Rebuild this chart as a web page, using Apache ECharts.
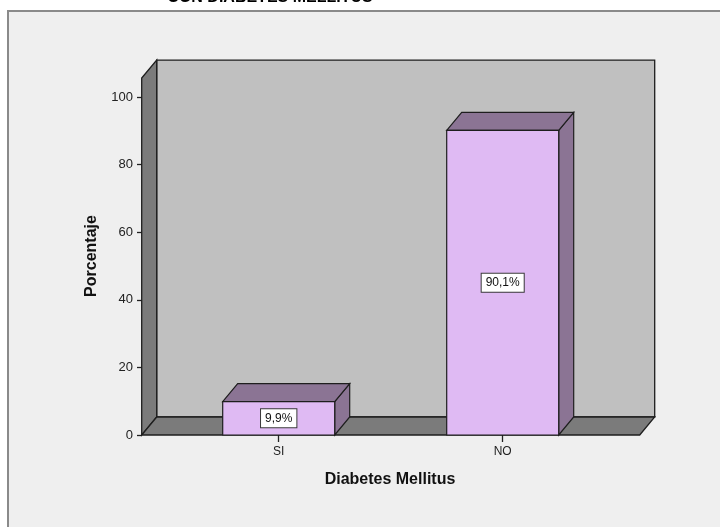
<!DOCTYPE html>
<html>
<head>
<meta charset="utf-8">
<script src="https://cdn.jsdelivr.net/npm/echarts@6/dist/echarts.min.js"></script>
<style>
  html, body { margin: 0; padding: 0; background: #ffffff; }
  #chart { width: 720px; height: 527px; }
</style>
</head>
<body>
<div id="chart"></div>
<script>
// Percentage of patients with / without diabetes mellitus
const categories = ['SI', 'NO'];
const percentages = [9.9, 90.1];
const valueLabels = ['9,9%', '90,1%'];
const yMin = 0;
const yMax = 100;
const yInterval = 20;
const wallTopValue = 105.6;

const FONT = "'Liberation Sans', Arial, sans-serif";
const DEPTH_X = 15;
const DEPTH_Y = -18;
const SIDE_PAD = 25;
const EDGE = '#1e1e1e';

// Back wall, left side wall and floor of the 3D box
function renderFrame(params, api) {
  const cs = params.coordSys;
  const base = api.coord([0, 0])[1];
  const top = api.coord([0, wallTopValue])[1];
  const left = cs.x - SIDE_PAD;
  const right = cs.x + cs.width + SIDE_PAD;
  const bl = left + DEPTH_X, br = right + DEPTH_X;
  const bBase = base + DEPTH_Y, bTop = top + DEPTH_Y;
  const line = { stroke: EDGE, lineWidth: 1.3 };
  return {
    type: 'group',
    children: [
      { type: 'polygon', shape: { points: [[bl, bTop], [br, bTop], [br, bBase], [bl, bBase]] },
        style: Object.assign({ fill: '#c0c0c0' }, line) },
      { type: 'polygon', shape: { points: [[left, base], [left, top], [bl, bTop], [bl, bBase]] },
        style: Object.assign({ fill: '#7b7b7b' }, line) },
      { type: 'polygon', shape: { points: [[left, base], [right, base], [br, bBase], [bl, bBase]] },
        style: Object.assign({ fill: '#7b7b7b' }, line) }
    ]
  };
}

// One 3D bar: front face, top face, right side face and its value box
function renderBar(params, api) {
  const idx = api.value(0);
  const val = api.value(1);
  const topPt = api.coord([idx, val]);
  const basePt = api.coord([idx, 0]);
  const band = api.size([1, 0])[0];
  const w = band * 0.5;
  const x0 = topPt[0] - w / 2, x1 = topPt[0] + w / 2;
  const yT = topPt[1], yB = basePt[1];
  const line = { stroke: EDGE, lineWidth: 1.2 };
  return {
    type: 'group',
    children: [
      { type: 'polygon', shape: { points: [[x1, yT], [x1 + DEPTH_X, yT + DEPTH_Y], [x1 + DEPTH_X, yB + DEPTH_Y], [x1, yB]] },
        style: Object.assign({ fill: '#8b7494' }, line) },
      { type: 'polygon', shape: { points: [[x0, yT], [x1, yT], [x1 + DEPTH_X, yT + DEPTH_Y], [x0 + DEPTH_X, yT + DEPTH_Y]] },
        style: Object.assign({ fill: '#8b7494' }, line) },
      { type: 'rect', shape: { x: x0, y: yT, width: w, height: yB - yT },
        style: Object.assign({ fill: '#dfbaf3' }, line) },
      { type: 'text',
        style: {
          text: valueLabels[params.dataIndex],
          x: topPt[0], y: (yT + yB) / 2,
          align: 'center', verticalAlign: 'middle',
          fill: '#111', font: '12px ' + FONT,
          backgroundColor: '#ffffff', borderColor: '#3a3a3a', borderWidth: 1,
          padding: [3, 4, 3, 4]
        } }
    ]
  };
}

const chart = echarts.init(document.getElementById('chart'), null, { renderer: 'canvas' });

chart.setOption({
  backgroundColor: '#ffffff',
  animation: false,
  graphic: [
    { type: 'rect', z: -10, silent: true,
      shape: { x: 8, y: 11, width: 740, height: 540 },
      style: { fill: '#efefef', stroke: '#8a8a8a', lineWidth: 2 } },
    { type: 'text', z: 10,
      style: { text: 'CON DIABETES MELLITUS', x: 270, y: -2, align: 'center', verticalAlign: 'middle',
               font: 'bold 16px ' + FONT, fill: '#000' } },
    { type: 'text', z: 10, rotation: Math.PI / 2, x: 92, y: 256,
      style: { text: 'Porcentaje', x: 0, y: 0, align: 'center', verticalAlign: 'middle',
               font: 'bold 16px ' + FONT, fill: '#111' } },
    { type: 'text', z: 10,
      style: { text: 'Diabetes Mellitus', x: 390, y: 480, align: 'center', verticalAlign: 'middle',
               font: 'bold 16px ' + FONT, fill: '#111' } }
  ],
  grid: { left: 166.7, right: 105.3, top: 97, bottom: 92, containLabel: false },
  xAxis: {
    type: 'category',
    data: categories,
    axisLine: { show: false },
    axisTick: { show: true, alignWithLabel: true, length: 7, lineStyle: { color: '#222', width: 1.3 } },
    axisLabel: { margin: 11, color: '#222', fontSize: 12, fontFamily: FONT },
    splitLine: { show: false }
  },
  yAxis: {
    type: 'value',
    min: yMin, max: yMax, interval: yInterval,
    offset: 24.7,
    axisLine: { show: false },
    axisTick: { show: true, length: 5, lineStyle: { color: '#222', width: 1.3 } },
    axisLabel: { margin: 9, color: '#222', fontSize: 13, fontFamily: FONT },
    splitLine: { show: false }
  },
  series: [
    { type: 'custom', name: 'frame', z: 1, clip: false,
      renderItem: renderFrame, data: [[0, 0]] },
    { type: 'custom', name: 'Porcentaje', z: 2, clip: false,
      renderItem: renderBar,
      data: categories.map((c, i) => [i, percentages[i]]) }
  ]
});
</script>
</body>
</html>
